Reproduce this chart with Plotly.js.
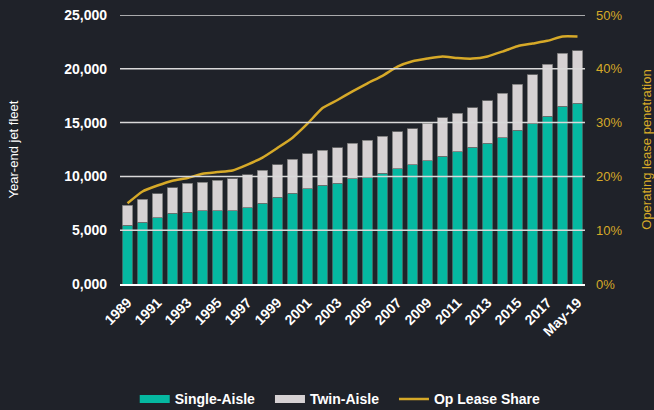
<!DOCTYPE html>
<html>
<head>
<meta charset="utf-8">
<script src="https://cdn.plot.ly/plotly-3.0.1.min.js"></script>
<style>
  html, body { margin: 0; padding: 0; background: #1f2229; }
  #chart { width: 654px; height: 410px; }
</style>
</head>
<body>
<div id="chart"></div>
<script>
const categories = ["1989","1990","1991","1992","1993","1994","1995","1996","1997","1998",
  "1999","2000","2001","2002","2003","2004","2005","2006","2007","2008",
  "2009","2010","2011","2012","2013","2014","2015","2016","2017","2018","May-19"];

const singleAisle = [5450,5760,6160,6570,6690,6810,6810,6810,7090,7500,
  8060,8430,8830,9200,9360,9760,9880,10290,10690,11060,
  11460,11870,12270,12700,13080,13600,14280,14930,15610,16540,16820];

const totalFleet = [7340,7870,8390,8950,9360,9480,9630,9760,10160,10560,
  11060,11590,12110,12420,12670,13080,13350,13720,14130,14410,
  14930,15460,15860,16390,17040,17720,18560,19460,20420,21440,21680];

const twinAisle = totalFleet.map((t, i) => t - singleAisle[i]);

const opLeaseShare = [0.150,0.172,0.183,0.192,0.197,0.205,0.208,0.211,0.222,0.235,
  0.253,0.272,0.298,0.327,0.342,0.358,0.373,0.387,0.404,0.414,
  0.419,0.423,0.420,0.419,0.423,0.432,0.442,0.447,0.452,0.460,0.460];

const seriesNames = ["Single-Aisle", "Twin-Aisle", "Op Lease Share"];
const xTickLabels = ["1989","1991","1993","1995","1997","1999","2001","2003","2005","2007",
  "2009","2011","2013","2015","2017","May-19"];
const yTickVals = [0,5000,10000,15000,20000,25000];
const yTickText = ["0,000","5,000","10,000","15,000","20,000","25,000"];
const y2TickVals = [0,0.1,0.2,0.3,0.4,0.5];
const y2TickText = ["0%","10%","20%","30%","40%","50%"];

const FONT = "Liberation Sans, Arial, sans-serif";
const GOLD = "#d6a928";
const TEAL = "#05b8a1";
const GREY = "#d6d1d3";

const traces = [
  {
    type: "bar", name: seriesNames[0], x: categories, y: singleAisle, showlegend: false,
    marker: { color: TEAL, line: { color: "#4a5a5a", width: 0.8 } }
  },
  {
    type: "bar", name: seriesNames[1], x: categories, y: twinAisle, showlegend: false,
    marker: { color: GREY, line: { color: "#707070", width: 0.8 } }
  },
  {
    type: "scatter", mode: "lines", name: seriesNames[2], x: categories, y: opLeaseShare,
    yaxis: "y2", showlegend: false,
    line: { color: GOLD, width: 2.5, shape: "spline", smoothing: 0.5 }
  },
  // legend-only entries (wide swatches like the original legend)
  { type: "scatter", mode: "lines", name: seriesNames[0], x: [null], y: [null],
    line: { color: TEAL, width: 8 }, legend: "legend" },
  { type: "scatter", mode: "lines", name: seriesNames[1], x: [null], y: [null],
    line: { color: GREY, width: 8 }, legend: "legend2" },
  { type: "scatter", mode: "lines", name: seriesNames[2], x: [null], y: [null], yaxis: "y2",
    line: { color: GOLD, width: 2.5 }, legend: "legend3" }
];

const gridShapes = yTickVals.filter(v => v > 0).map(v => ({
  type: "line", xref: "paper", x0: 0, x1: 1, yref: "y", y0: v, y1: v,
  line: { color: "#d9d9d9", width: 1.5 }, layer: "above"
}));

function legendAt(xFrac) {
  return {
    orientation: "h",
    xref: "container", x: xFrac, xanchor: "left",
    yref: "container", y: 0.026, yanchor: "middle",
    itemwidth: 30,
    font: { family: FONT, size: 14, color: "#ffffff", weight: "bold" },
    bgcolor: "rgba(0,0,0,0)"
  };
}

const layout = {
  width: 654, height: 410,
  paper_bgcolor: "#1f2229", plot_bgcolor: "#1f2229",
  margin: { l: 120, r: 69, t: 15, b: 126, autoexpand: false },
  barmode: "stack", bargap: 0.33,
  showlegend: true,
  legend: legendAt(0.206),
  legend2: legendAt(0.4128),
  legend3: legendAt(0.6024),
  xaxis: {
    type: "category",
    tickmode: "array", tickvals: xTickLabels, ticktext: xTickLabels,
    tickangle: -45,
    tickfont: { family: FONT, size: 14, color: "#ffffff", weight: "bold" },
    showgrid: false, zeroline: false,
    showline: true, linecolor: "#ffffff", linewidth: 2,
    ticks: "", ticklabelstandoff: 3, fixedrange: true
  },
  yaxis: {
    range: [0, 25000],
    tickmode: "array", tickvals: yTickVals, ticktext: yTickText,
    tickfont: { family: FONT, size: 14, color: "#ffffff", weight: "bold" },
    showgrid: false, zeroline: false, ticks: "",
    ticklabelstandoff: 12,
    title: { text: "Year-end jet fleet", font: { family: FONT, size: 13, color: "#ffffff" }, standoff: 42 }
  },
  yaxis2: {
    overlaying: "y", side: "right",
    range: [0, 0.5],
    tickmode: "array", tickvals: y2TickVals, ticktext: y2TickText,
    tickfont: { family: FONT, size: 13, color: GOLD },
    showgrid: false, zeroline: false, ticks: "",
    ticklabelstandoff: 10,
    title: { text: "Operating lease penetration", font: { family: FONT, size: 13, color: GOLD }, standoff: 20 }
  },
  shapes: gridShapes
};

Plotly.newPlot("chart", traces, layout, { displayModeBar: false, staticPlot: true });
</script>
</body>
</html>
